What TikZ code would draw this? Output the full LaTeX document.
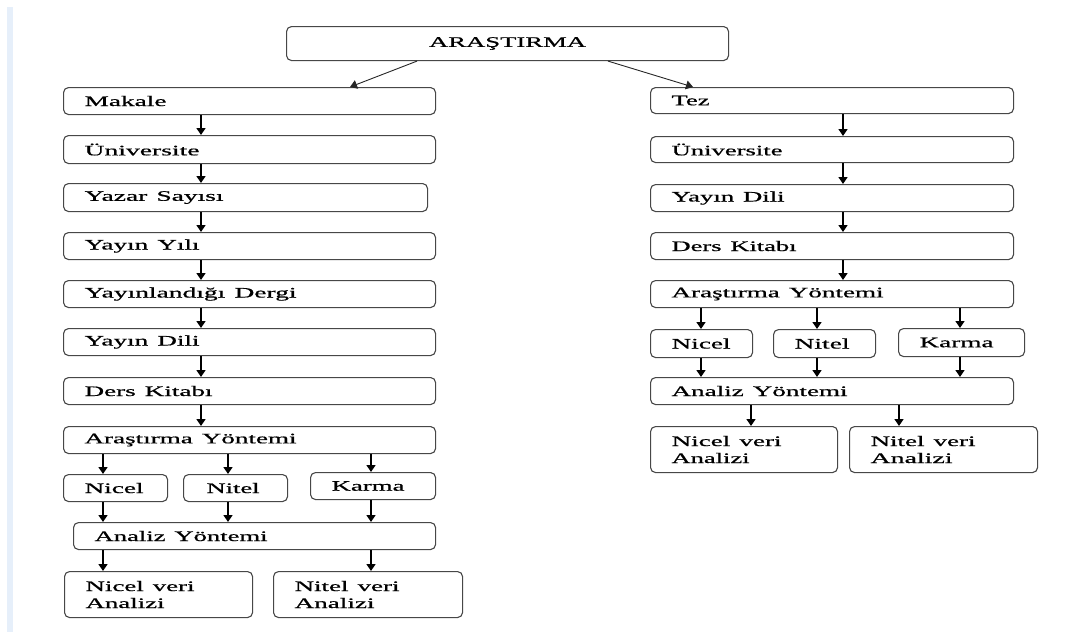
\documentclass[tikz,border=0pt]{standalone}
\usepackage{fontspec}
\usepackage{graphicx}
\setmainfont{Liberation Serif}
\newfontfamily\boxfont{Liberation Serif}[FakeBold=0.6]
\usetikzlibrary{arrows.meta}
\definecolor{edgeblue}{HTML}{E6EFFA}
\newcommand{\stx}[2]{\resizebox{#1pt}{\height}{#2}}
\tikzset{
  box/.style={draw=black!72, line width=1.1pt, rounded corners=5pt, rectangle,
    inner xsep=21pt, inner ysep=0pt, anchor=north west, align=left,
    font=\boxfont\fontsize{14.5}{17}\selectfont, text=black},
  arr/.style={draw=black, line width=1.4pt, -{Triangle[width=9pt,length=7pt]}},
  darr/.style={draw=black!85, line width=0.9pt, -{Triangle[width=9pt,length=7pt]}}
}
\newcommand{\bx}[6]{%
  \pgfmathsetmacro\bxw{#4-#2}%
  \pgfmathsetmacro\bxh{#5-#3}%
  \pgfmathsetmacro\bxt{#4-#2-42}%
  \node[box, minimum width=\bxw pt, minimum height=\bxh pt, text width=\bxt pt] (#1) at (#2,#3) {#6};}
\begin{document}
\begin{tikzpicture}[x=1pt,y=-1pt]
\useasboundingbox (0,0) rectangle (1092,632);
\fill[edgeblue] (7,7) rectangle (12.5,632);
% column coordinates
\coordinate (Lc) at (201,0);
\coordinate (L1) at (103,0);
\coordinate (L2) at (228,0);
\coordinate (L3) at (371,0);
\coordinate (Rc) at (843,0);
\coordinate (R1) at (701,0);
\coordinate (R2) at (817,0);
\coordinate (R3) at (960,0);
\coordinate (R4) at (751,0);
\coordinate (R5) at (899,0);
% top
\node[box, align=center, minimum width=442pt, minimum height=34pt, text width=400pt] (top) at (286,26) {\stx{157}{ARAŞTIRMA}};
% left column
\bx{makale}{63}{87}{435}{114}{\stx{82}{Makale}}
\bx{uni1}{63}{135}{435}{163}{\stx{115}{Üniversite}}
\bx{yazar}{63}{183}{427}{211}{\stx{139}{Yazar Sayısı}}
\bx{yil}{63}{232}{435}{259}{\stx{115}{Yayın Yılı}}
\bx{dergi}{63}{280}{435}{307}{\stx{212}{Yayınlandığı Dergi}}
\bx{dil1}{63}{328}{435}{355}{\stx{115}{Yayın Dili}}
\bx{ders1}{63}{377}{435}{404}{\stx{128}{Ders Kitabı}}
\bx{ay1}{63}{426}{435}{453}{\stx{212}{Araştırma Yöntemi}}
\bx{nicel1}{63}{474}{167}{501}{\stx{59}{Nicel}}
\bx{nitel1}{183}{474}{287}{501}{\hspace{2pt}\stx{53}{Nitel}}
\bx{karma1}{310}{472}{435}{499}{\stx{73}{Karma}}
\bx{an1}{73}{522}{435}{549}{\stx{173}{Analiz Yöntemi}}
\bx{nv1}{64}{571}{252}{617}{\stx{109}{Nicel veri}\\\stx{79}{Analizi}}
\bx{tv1}{273}{571}{462}{617}{\stx{105}{Nitel veri}\\\stx{80}{Analizi}}
% right column
\bx{tez}{650}{87}{1013}{113}{\stx{38}{Tez}}
\bx{uni2}{650}{136}{1013}{162}{\stx{111}{Üniversite}}
\bx{dil2}{650}{184}{1013}{211}{\stx{113}{Yayın Dili}}
\bx{ders2}{650}{232}{1013}{259}{\stx{125}{Ders Kitabı}}
\bx{ay2}{650}{280}{1013}{307}{\stx{212}{Araştırma Yöntemi}}
\bx{nicel2}{650}{329}{752}{357}{\stx{59}{Nicel}}
\bx{nitel2}{773}{329}{875}{357}{\stx{55}{Nitel}}
\bx{karma2}{898}{328}{1024}{356}{\stx{74}{Karma}}
\bx{an2}{650}{377}{1013}{404}{\stx{176}{Analiz Yöntemi}}
\bx{nv2}{650}{426}{837}{472}{\stx{110}{Nicel veri}\\\stx{78}{Analizi}}
\bx{tv2}{849}{426}{1037}{472}{\stx{105}{Nitel veri}\\\stx{82}{Analizi}}
% top arrows
\draw[darr] ([xshift=131pt]top.south west) -- ([xshift=287pt]makale.north west);
\draw[darr] ([xshift=322pt]top.south west) -- ([xshift=43pt]tez.north west);
% left chain
\foreach \a/\b in {makale/uni1, uni1/yazar, yazar/yil, yil/dergi, dergi/dil1, dil1/ders1, ders1/ay1}
  \draw[arr] (\a.south -| Lc) -- (\b.north -| Lc);
\draw[arr] (ay1.south -| L1) -- (nicel1.north -| L1);
\draw[arr] (ay1.south -| L2) -- (nitel1.north -| L2);
\draw[arr] (ay1.south -| L3) -- (karma1.north -| L3);
\draw[arr] (nicel1.south -| L1) -- (an1.north -| L1);
\draw[arr] (nitel1.south -| L2) -- (an1.north -| L2);
\draw[arr] (karma1.south -| L3) -- (an1.north -| L3);
\draw[arr] (an1.south -| L1) -- (nv1.north -| L1);
\draw[arr] (an1.south -| L3) -- (tv1.north -| L3);
% right chain
\foreach \a/\b in {tez/uni2, uni2/dil2, dil2/ders2, ders2/ay2}
  \draw[arr] (\a.south -| Rc) -- (\b.north -| Rc);
\draw[arr] (ay2.south -| R1) -- (nicel2.north -| R1);
\draw[arr] (ay2.south -| R2) -- (nitel2.north -| R2);
\draw[arr] (ay2.south -| R3) -- (karma2.north -| R3);
\draw[arr] (nicel2.south -| R1) -- (an2.north -| R1);
\draw[arr] (nitel2.south -| R2) -- (an2.north -| R2);
\draw[arr] (karma2.south -| R3) -- (an2.north -| R3);
\draw[arr] (an2.south -| R4) -- (nv2.north -| R4);
\draw[arr] (an2.south -| R5) -- (tv2.north -| R5);
\end{tikzpicture}
\end{document}
